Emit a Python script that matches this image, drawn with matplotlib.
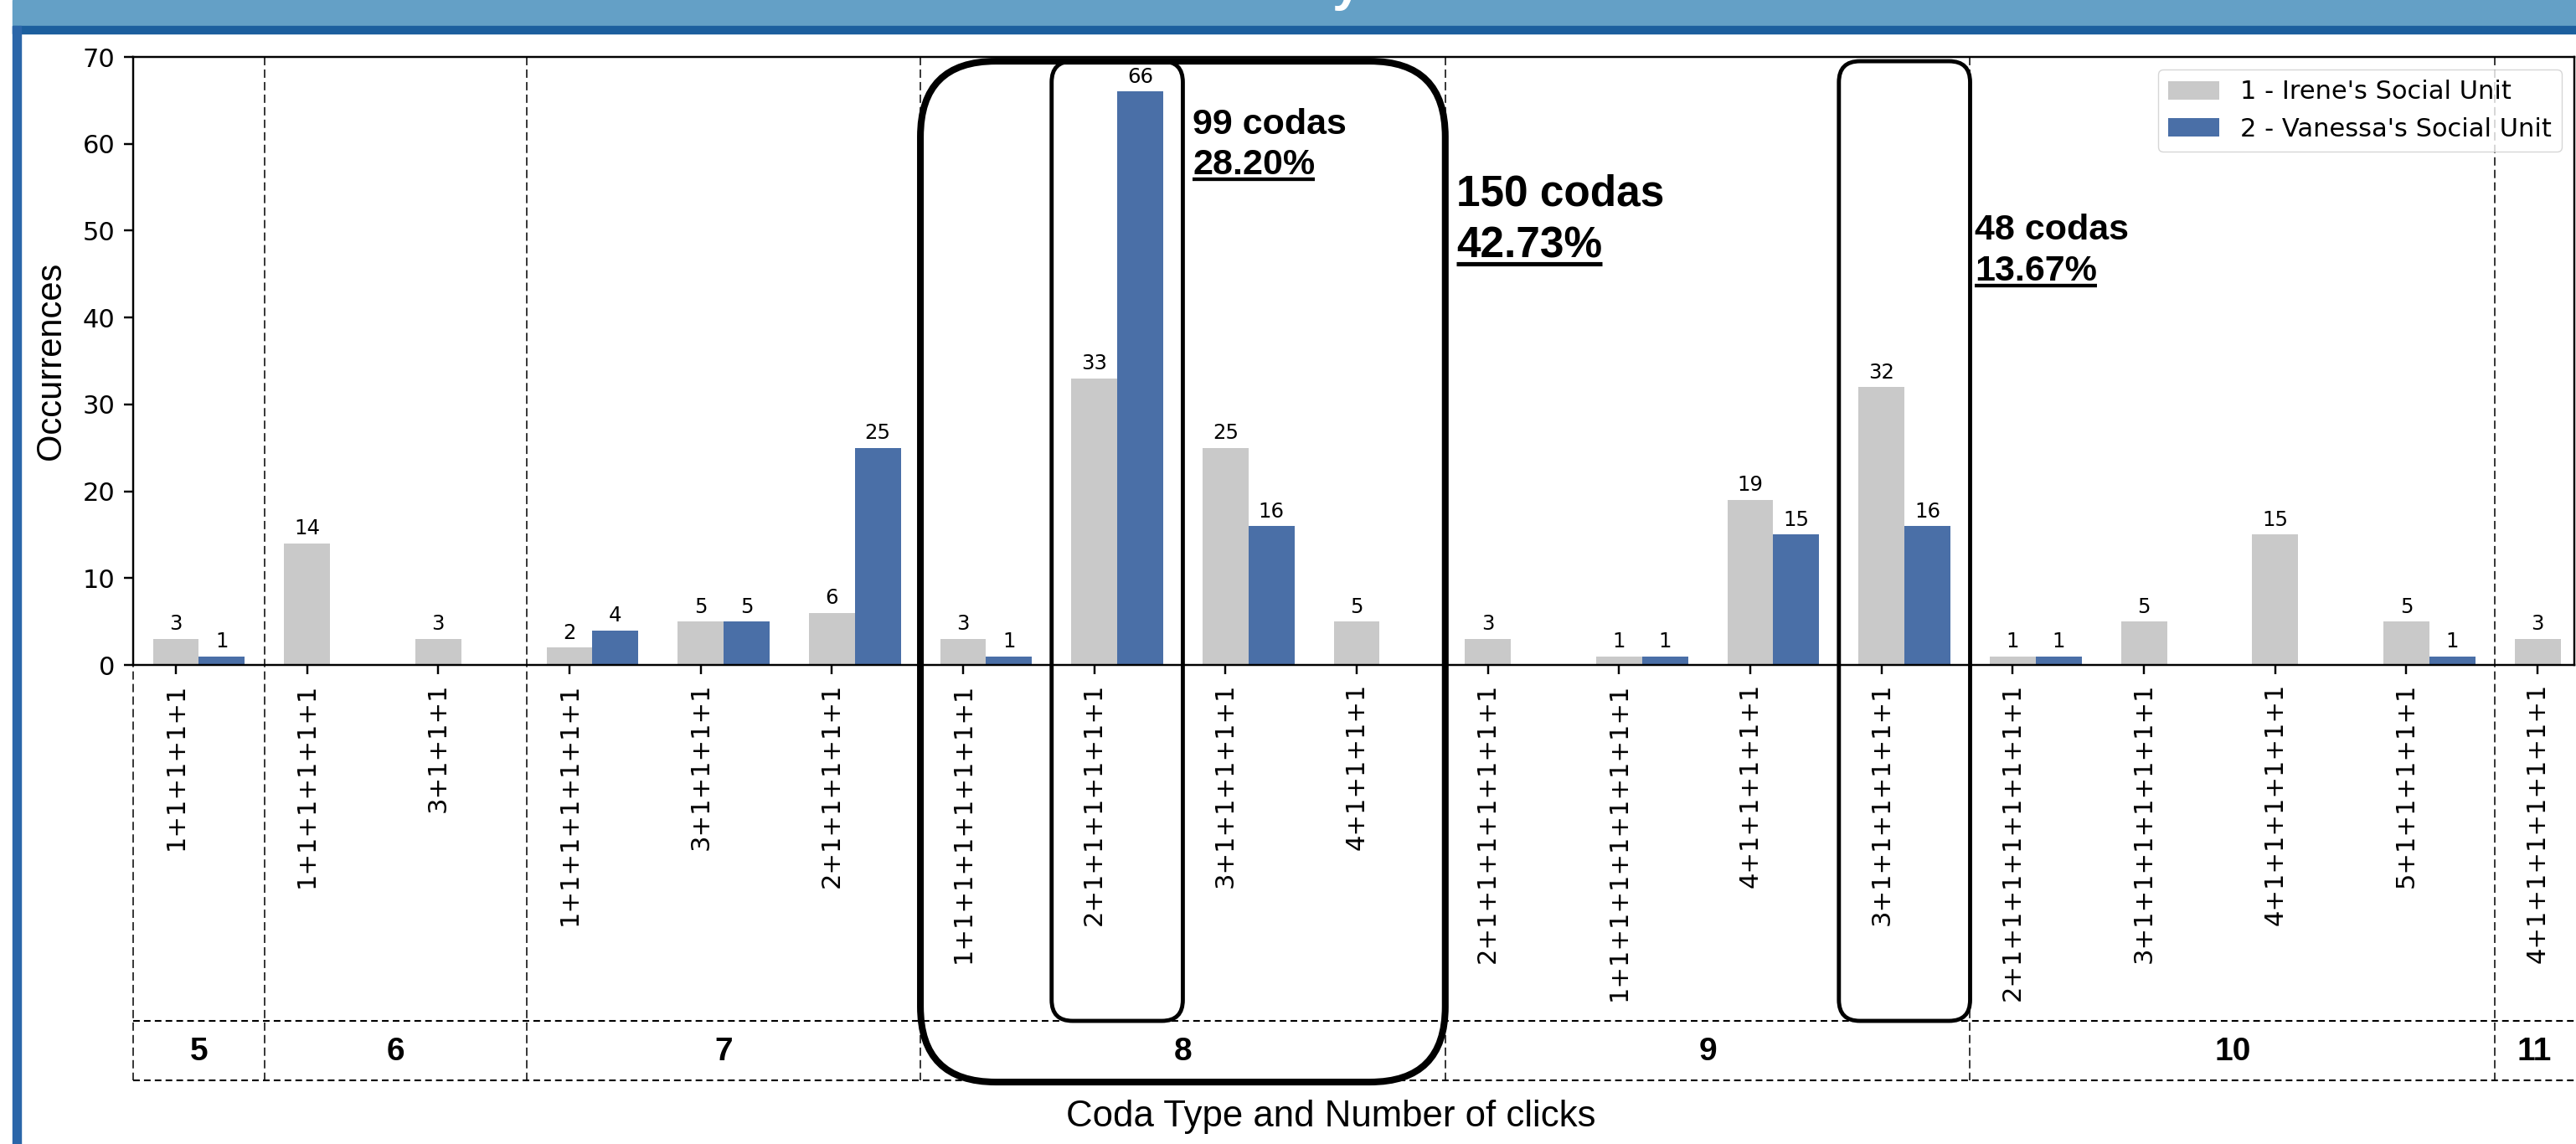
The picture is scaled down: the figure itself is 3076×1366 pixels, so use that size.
import numpy as np
import matplotlib
matplotlib.use("Agg")
import matplotlib.pyplot as plt
import matplotlib.transforms as mtransforms
from matplotlib.patches import FancyBboxPatch, Rectangle
from matplotlib.lines import Line2D

# coda types, their number of clicks and counts per social unit
coda_types = ["1+1+1+1+1", "1+1+1+1+1+1", "3+1+1+1", "1+1+1+1+1+1+1",
              "3+1+1+1+1", "2+1+1+1+1+1", "1+1+1+1+1+1+1+1", "2+1+1+1+1+1+1",
              "3+1+1+1+1+1", "4+1+1+1+1", "2+1+1+1+1+1+1+1",
              "1+1+1+1+1+1+1+1+1", "4+1+1+1+1+1", "3+1+1+1+1+1+1",
              "2+1+1+1+1+1+1+1+1", "3+1+1+1+1+1+1+1", "4+1+1+1+1+1+1",
              "5+1+1+1+1+1", "4+1+1+1+1+1+1+1"]
clicks = [5, 6, 6, 7, 7, 7, 8, 8, 8, 8, 9, 9, 9, 9, 10, 10, 10, 10, 11]
irene = [3, 14, 3, 2, 5, 6, 3, 33, 25, 5, 3, 1, 19, 32, 1, 5, 15, 5, 3]
vanessa = [1, 0, 0, 4, 5, 25, 1, 66, 16, 0, 0, 1, 15, 16, 1, 0, 0, 1, 0]

# highlighted totals: (x, y of first line, y of second line, text1, text2, size)
notes = [(7.75, 61.1, 56.5, "99 codas", "28.20%", 31),
         (9.76, 52.9, 46.9, "150 codas", "42.73%", 37),
         (13.71, 49.0, 44.3, "48 codas", "13.67%", 31)]

W, H, DPI = 3076, 1366, 100
w = 0.35
xmin, xmax = -0.5 + w / 2, 18.28

plt.rcParams['font.family'] = ['DejaVu Sans']
fig = plt.figure(figsize=(W / DPI, H / DPI), dpi=DPI)

# poster banner and left border
fig.add_artist(Rectangle((15 / W, 1 - 31 / H), 1, 31 / H, transform=fig.transFigure,
                         color='#64a0c6', zorder=0))
fig.add_artist(Rectangle((15 / W, 1 - 40 / H), 1, 9 / H, transform=fig.transFigure,
                         color='#1c5f9e', zorder=0))
fig.add_artist(Rectangle((15 / W, 0), 6 / W, 1 - 31 / H, transform=fig.transFigure,
                         color='#2b66a9', zorder=0))
fig.add_artist(Rectangle((22 / W, 0), 2.5 / W, 1 - 31 / H, transform=fig.transFigure,
                         color='#2b66a9', zorder=0))
# bottom of the poster title's letter, cut by the screenshot edge
fig.text(1608 / W, 1.0, "y", color='white', fontsize=45, fontweight='bold',
         family='Liberation Sans', ha='center', va='baseline')

ax = fig.add_axes([159 / W, 1 - 794 / H, (3074 - 159) / W, (794 - 68) / H])

x = np.arange(len(coda_types))
b1 = ax.bar(x, irene, w, color='#c9c9c9', label="1 - Irene's Social Unit", zorder=2)
b2 = ax.bar(x + w, vanessa, w, color='#4a6fa7', label="2 - Vanessa's Social Unit", zorder=2)
ax.bar_label(b1, labels=[str(v) if v > 0 else '' for v in irene], padding=4, fontsize=17.6)
ax.bar_label(b2, labels=[str(v) if v > 0 else '' for v in vanessa], padding=4, fontsize=17.6)

ax.set_xlim(xmin, xmax)
ax.set_ylim(0, 70)
ax.set_xticks(x, coda_types, rotation=90, fontsize=22)
ax.set_yticks(range(0, 71, 10))
ax.tick_params(axis='y', labelsize=22)
ax.tick_params(length=7.7, width=1.76, pad=7.7)
for s in ax.spines.values():
    s.set_linewidth(1.76)

ax.legend(loc='upper right', fontsize=22)

ax.set_ylabel("Occurrences", family='Liberation Sans', fontsize=30)
ax.yaxis.set_label_coords(-0.0268, 0.5)
ax.set_xlabel("Coda Type and Number of clicks", family='Liberation Sans', fontsize=31.5)
ax.xaxis.set_label_coords(0.4906, -0.715)

# group separators and click-number row
trans = mtransforms.blended_transform_factory(ax.transData, ax.transAxes)
bounds = [xmin] + [i - 0.5 + w / 2 for i in range(1, len(clicks)) if clicks[i] != clicks[i - 1]] + [xmax]
groups = [clicks[0]] + [clicks[i] for i in range(1, len(clicks)) if clicks[i] != clicks[i - 1]]
y_row_top, y_row_bot = -0.5854, -0.6832
for b in bounds[:-1]:
    ax.plot([b, b], [1.0, y_row_bot], transform=trans, color='black', lw=1.1,
            dashes=(6.5, 3.3), clip_on=False, zorder=1)
for yy in (y_row_top, y_row_bot):
    ax.plot([0, 1], [yy, yy], transform=ax.transAxes, color='black', lw=1.5,
            dashes=(3.8, 2.4), clip_on=False, zorder=1)
for g, lo, hi in zip(groups, bounds[:-1], bounds[1:]):
    ax.text((lo + hi) / 2, -0.637, str(g), transform=trans, ha='center', va='center',
            fontsize=28, fontweight='bold', family='Liberation Sans')


# rounded highlight boxes
def box(x0, x1, y0, y1, r_px, lw):
    X0 = ax.transData.transform((x0, 0))[0]
    X1 = ax.transData.transform((x1, 0))[0]
    Y0 = ax.transAxes.transform((0, y0))[1]
    Y1 = ax.transAxes.transform((0, y1))[1]
    p = FancyBboxPatch((X0 / DPI, Y0 / DPI), (X1 - X0) / DPI, (Y1 - Y0) / DPI,
                       boxstyle=f"round,pad=0,rounding_size={r_px / DPI}",
                       transform=fig.dpi_scale_trans, fill=False, ec='black', lw=lw, zorder=6)
    fig.add_artist(p)


box(bounds[3], bounds[4], -0.686, 0.993, 90, 5.8)
box(7 - 0.5 + w / 2, 7 + 0.5 + w / 2, y_row_top, 0.993, 25, 3.5)
box(13 - 0.5 + w / 2, 13 + 0.5 + w / 2, y_row_top, 0.993, 25, 3.5)

texts = []
for nx, ny1, ny2, t1, t2, fs in notes:
    ax.text(nx, ny1, t1, ha='left', va='baseline', fontsize=fs, fontweight='bold',
            family='Liberation Sans')
    t = ax.text(nx, ny2, t2, ha='left', va='baseline', fontsize=fs, fontweight='bold',
                family='Liberation Sans')
    texts.append((t, nx, ny2, fs))

# underline the percentages
fig.canvas.draw()
for t, nx, ny, fs in texts:
    bb = t.get_window_extent()
    yb = ax.transData.transform((nx, ny))[1] - 0.15 * fs * DPI / 72
    fig.add_artist(Line2D([bb.x0 / DPI, bb.x1 / DPI], [yb / DPI, yb / DPI],
                          transform=fig.dpi_scale_trans, color='black',
                          lw=fs * 0.1, solid_capstyle='butt'))

fig.savefig("out.png", dpi=DPI)
